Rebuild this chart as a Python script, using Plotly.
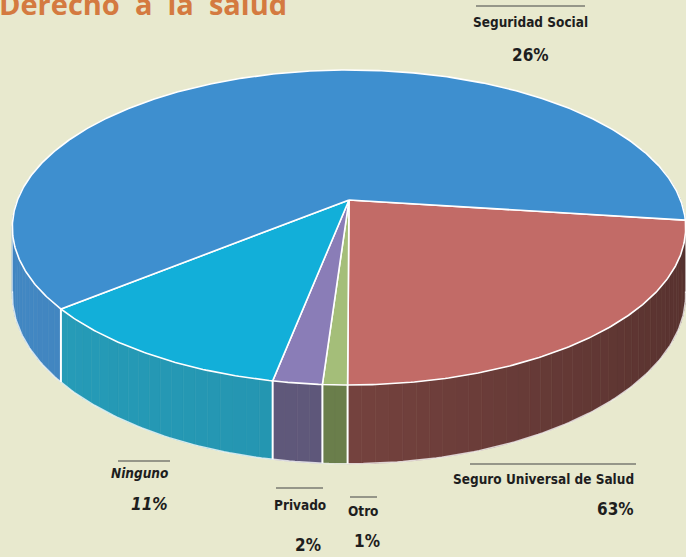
import numpy as np
import plotly.graph_objects as go

# ---------------- data ----------------
# slices in clockwise order starting at the right edge (values as drawn)
slice_values = [23, 1, 2, 11, 63]
slice_colors = ["#C26B67", "#A4BE79", "#8A7DB7", "#12AFD9", "#3E8FCF"]
wall_colors = ["#74423E", "#6A7E4B", "#5E5779", "#2494AF", "#3F80B8"]

# labels as printed on the chart
label_names = ["Seguridad Social", "Seguro Universal de Salud", "Ninguno", "Privado", "Otro"]
label_pcts = ["26%", "63%", "11%", "2%", "1%"]

title_text = "Derecho  a  la  salud"

# ---------------- style / geometry ----------------
BG = "#E8E9CE"
CX, CY = 349.0, 200.0      # apex of pie (pixels)
R, H, K = 331.5, 152.7, 0.1746   # radius, depth scale, perspective
T = 65.0                   # thickness
START = -7.4               # start angle (deg), going clockwise


def proj(theta_deg, depth=0.0):
    t = np.radians(theta_deg)
    u, v = np.cos(t), np.sin(t)
    s = 1.0 / (1.0 + K * v)
    return CX + R * u * s, CY - H * v * s + T * s * depth


def shade(hexc, f):
    h = hexc.lstrip("#")
    r, g, b = (int(h[i:i + 2], 16) for i in (0, 2, 4))
    c = [max(0, min(255, int(round(x * f)))) for x in (r, g, b)]
    return "rgb(%d,%d,%d)" % tuple(c)


def wall_factor(theta):
    c = np.cos(np.radians(theta))
    return 1 - 0.25 * max(c, 0) + 0.06 * max(-c, 0)


total = float(sum(slice_values))
bounds = [START]
for val in slice_values:
    bounds.append(bounds[-1] - 360.0 * val / total)

fig = go.Figure()

# ---- walls (pieces sorted far -> near) ----
pieces = []
for i, val in enumerate(slice_values):
    a0, a1 = bounds[i], bounds[i + 1]
    n = max(1, int(np.ceil((a0 - a1) / 2.0)))
    edges = np.linspace(a0, a1, n + 1)
    for j in range(n):
        t0, t1 = edges[j], edges[j + 1]
        mid = 0.5 * (t0 + t1)
        mn = ((mid + 270) % 360) - 270
        if not (-200 <= mn <= 20):
            continue
        ts = np.linspace(t0, t1, 6)
        xt, yt = proj(ts, 0)
        xb, yb = proj(ts[::-1], 1)
        xs = np.concatenate([xt, xb, xt[:1]])
        ys = np.concatenate([yt, yb, yt[:1]])
        col = shade(wall_colors[i], wall_factor(mn))
        pieces.append((np.sin(np.radians(mid)), xs, ys, col))

pieces.sort(key=lambda p: -p[0])
for _, xs, ys, col in pieces:
    fig.add_trace(go.Scatter(x=xs, y=ys, mode="lines", fill="toself",
                             fillcolor=col, line=dict(color=col, width=0.6),
                             hoverinfo="skip"))

# ---- wall outline (bottom rim + silhouettes) ----
ts = np.linspace(-171, -9, 200)
xb, yb = proj(ts, 1)
fig.add_trace(go.Scatter(x=xb, y=yb, mode="lines",
                         line=dict(color="rgba(255,255,255,0.75)", width=1.5),
                         hoverinfo="skip"))
for a in (-170.5, -9.5):
    x0, y0 = proj(a, 0)
    x1, y1 = proj(a, 1)
    fig.add_trace(go.Scatter(x=[x0, x1], y=[y0, y1], mode="lines",
                             line=dict(color="rgba(255,255,255,0.6)", width=1.2),
                             hoverinfo="skip"))

# ---- vertical white lines at visible slice boundaries ----
for b in bounds[1:-1]:
    bn = ((b + 270) % 360) - 270
    if -168 < bn < -12:
        x0, y0 = proj(b, 0)
        x1, y1 = proj(b, 1)
        fig.add_trace(go.Scatter(x=[x0, x1], y=[y0, y1], mode="lines",
                                 line=dict(color="white", width=2),
                                 hoverinfo="skip"))

# ---- top faces ----
for i, val in enumerate(slice_values):
    a0, a1 = bounds[i], bounds[i + 1]
    ts = np.linspace(a0, a1, max(8, int((a0 - a1) * 2)))
    xt, yt = proj(ts, 0)
    xs = np.concatenate([[CX], xt, [CX]])
    ys = np.concatenate([[CY], yt, [CY]])
    fig.add_trace(go.Scatter(x=xs, y=ys, mode="lines", fill="toself",
                             fillcolor=slice_colors[i],
                             line=dict(color="white", width=1.6),
                             hoverinfo="skip"))

# ---------------- labels ----------------
LF = "DejaVu Sans Condensed, Liberation Sans Narrow, sans-serif"
TXT = "#1E1E1E"
LINE = "#7A7A72"

# (name x, name y, anchor, pct x, pct y, line x0, line x1, line y)
label_pos = [
    (530, 22, "center", 530, 55, 476, 585, 6),
    (636, 479, "right", 636, 509, 470, 636, 464),
    (170, 473, "right", 170, 504, 118, 170, 461),
    (300, 505, "center", 308, 545, 276, 323, 488),
    (363, 511, "center", 367, 541, 350, 377, 497),
]

annotations = []
shapes = []
for k, (nx, ny, anc, px, py, lx0, lx1, ly) in enumerate(label_pos):
    name = label_names[k]
    pct = label_pcts[k]
    if name == "Ninguno":
        name = "<i>" + name + "</i>"
        pct = "<i>" + pct + "</i>"
    annotations.append(dict(x=nx, y=ny, xref="x", yref="y", text=name,
                            showarrow=False, xanchor=anc, yanchor="middle",
                            font=dict(family=LF, size=13.5, color=TXT, weight="bold")))
    annotations.append(dict(x=px, y=py, xref="x", yref="y", text=pct,
                            showarrow=False, xanchor=anc, yanchor="middle",
                            font=dict(family=LF, size=17, color=TXT, weight="bold")))
    shapes.append(dict(type="line", xref="x", yref="y", x0=lx0, x1=lx1, y0=ly, y1=ly,
                       line=dict(color=LINE, width=1.5)))

annotations.append(dict(x=0, y=25, xref="x", yref="y", xshift=-3, text=title_text,
                        showarrow=False, xanchor="left", yanchor="bottom",
                        font=dict(family="Open Sans, sans-serif", size=29,
                                  color="#D47A40", weight="bold")))

fig.update_layout(
    width=686, height=557,
    margin=dict(l=0, r=0, t=0, b=0),
    paper_bgcolor=BG, plot_bgcolor=BG,
    showlegend=False,
    xaxis=dict(range=[0, 686], visible=False, fixedrange=True),
    yaxis=dict(range=[557, 0], visible=False, fixedrange=True),
    annotations=annotations,
    shapes=shapes,
)

fig.write_html("out.html",
               config={"displayModeBar": False},
               post_script="document.body.style.margin='0';"
                           "document.body.style.overflow='hidden';"
                           "document.body.style.background='" + BG + "';")
